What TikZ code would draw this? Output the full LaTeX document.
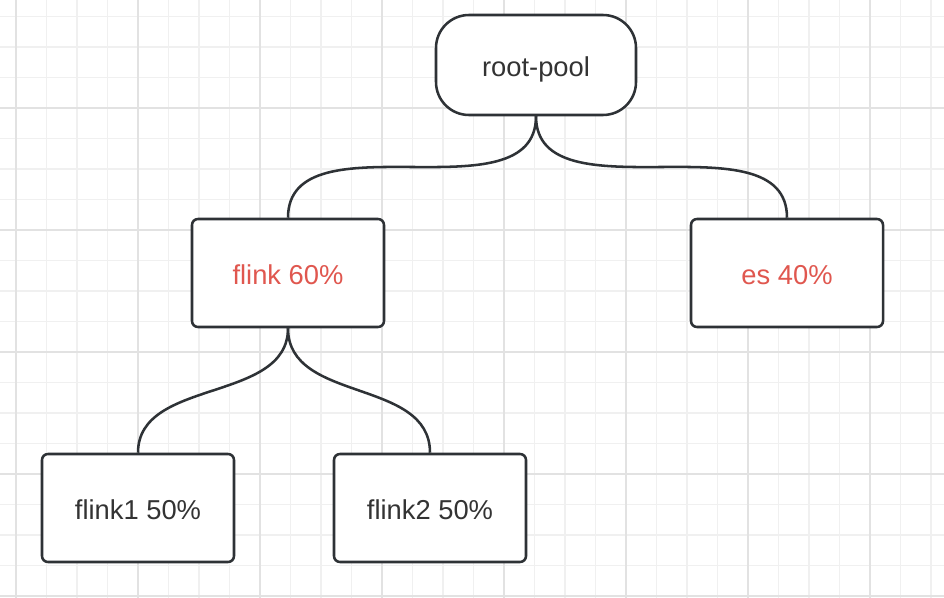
\documentclass[tikz,border=0pt]{standalone}
\usepackage{fontspec}
\setmainfont{Liberation Sans}
\definecolor{gridminor}{HTML}{F0F0F0}
\definecolor{gridmajor}{HTML}{E2E2E2}
\definecolor{edgegray}{HTML}{2E3236}
\definecolor{textgray}{HTML}{333333}
\definecolor{pctred}{HTML}{E0574F}

\begin{document}
\begin{tikzpicture}[x=0.75pt,y=-0.75pt,
	box/.style={draw=edgegray,line width=1.9pt,fill=white,rounded corners=4.5pt,
		minimum width=144pt,minimum height=81pt,text=textgray,
		text height=17pt,text depth=0pt,
		font=\fontsize{20.5}{24}\selectfont},
	pool/.style={box,rounded corners=24.75pt,minimum width=150pt,minimum height=75pt},
	share/.style={box,text=pctred},
	link/.style={draw=edgegray,line width=1.9pt}]
	\useasboundingbox (0,0) rectangle (944,598);
	\fill[white] (0,0) rectangle (944,598);
	\begin{scope}
		\clip (0,0) rectangle (944,598);
		\foreach \x in {-14.5,16,...,940} \draw[gridminor,line width=1.1pt] (\x,0) -- (\x,598);
		\foreach \y in {16.5,47,...,598} \draw[gridminor,line width=1.1pt] (0,\y) -- (944,\y);
		\foreach \x in {16,138,...,940} \draw[gridmajor,line width=1.2pt] (\x,0) -- (\x,598);
		\foreach \y in {108,230,...,598} \draw[gridmajor,line width=1.2pt] (0,\y) -- (944,\y);
	\end{scope}

	\node[pool] (R) at (536,65) {root-pool};
	\node[share] (F) at (288,273) {flink 60\%};
	\node[share] (E) at (787,273) {es 40\%};
	\node[box] (F1) at (138,508) {flink1 50\%};
	\node[box] (F2) at (430,508) {flink2 50\%};

	\draw[link] (R.south) .. controls +(0,103) and +(0,-103) .. (F.north);
	\draw[link] (R.south) .. controls +(0,103) and +(0,-103) .. (E.north);
	\draw[link] (F.south) .. controls +(0,75) and +(0,-75) .. (F1.north);
	\draw[link] (F.south) .. controls +(0,75) and +(0,-75) .. (F2.north);
\end{tikzpicture}
\end{document}
